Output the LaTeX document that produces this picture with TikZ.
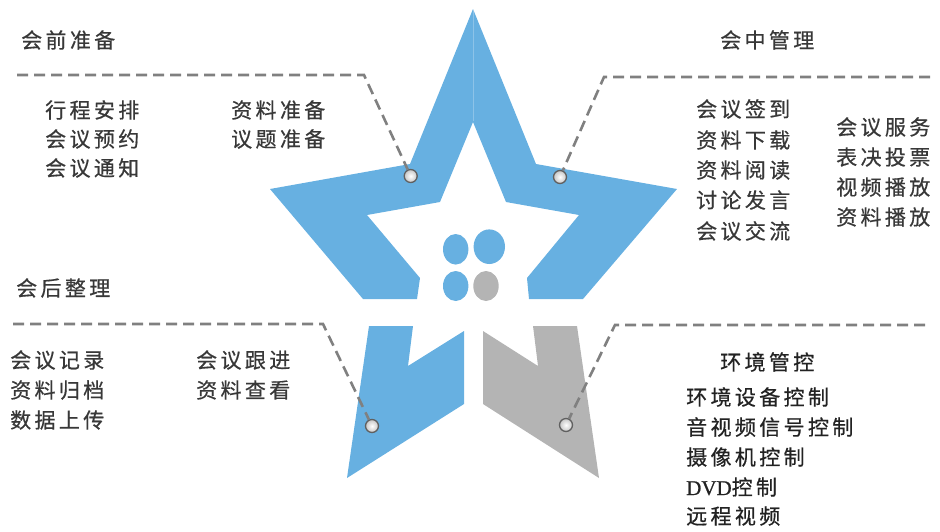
\documentclass[tikz,border=0pt]{standalone}
\usepackage{fontspec}
\setmainfont{Noto Sans CJK SC}
\newfontfamily\cjk[LetterSpace=16,FakeBold=0.6]{Noto Sans CJK SC}
\newfontfamily\latn[FakeBold=0.8]{Liberation Serif}
\definecolor{starblue}{HTML}{67B0E1}
\definecolor{stargray}{HTML}{B4B4B4}
\definecolor{dashgray}{HTML}{808080}
\definecolor{txtc}{HTML}{383838}
\definecolor{txtd}{HTML}{222222}
\tikzset{
  txt/.style={font=\cjk\fontsize{21}{24}\selectfont, text=txtc, inner sep=0pt, anchor=west},
  txtdark/.style={txt, text=txtd},
  guide/.style={draw=dashgray, line width=2.6pt, dash pattern=on 11pt off 6pt},
  pin/.style={circle, minimum size=13pt, inner sep=0pt, draw=gray!75!black, line width=1.3pt, inner color=white, outer color=gray!45},
}
\begin{document}
\begin{tikzpicture}[x=1pt,y=-1pt]
\useasboundingbox (0,0) rectangle (940,531);
% star upper part
\fill[starblue] (473,9) -- (536,164) -- (677,189) -- (583,299) -- (529,299) -- (527,278)
  -- (579,215) -- (506,202) -- (473,122) -- (440,202) -- (367,215) -- (420,278)
  -- (417,299) -- (363,299) -- (270,189) -- (410,164) -- cycle;
\draw[white, opacity=0.25, line width=0.6pt] (473,10) -- (473,121);
% lower legs
\fill[starblue] (369,326) -- (413,326) -- (408,366) -- (464,331) -- (464,404) -- (347,478) -- cycle;
\fill[stargray] (577,326) -- (533,326) -- (538,366) -- (483,331) -- (483,404) -- (599,478) -- cycle;
% centre dots
\fill[starblue] (455.7,249.3) ellipse [x radius=12.7, y radius=15.3];
\fill[starblue] (489.3,246.7) ellipse [x radius=15.7, y radius=17.3];
\fill[starblue] (455.7,286) ellipse [x radius=12.7, y radius=15];
\fill[stargray] (486,286) ellipse [x radius=12.7, y radius=15];
% pins
\node[pin] (pA) at (410.7,176) {};
\node[pin] (pB) at (560,177) {};
\node[pin] (pC) at (372,426) {};
\node[pin] (pD) at (566,425) {};
% guide lines
\coordinate (sA) at (17,75);  \coordinate (cA) at (364,75);
\coordinate (sB) at (930,77); \coordinate (cB) at (604,77);
\coordinate (sC) at (13,324); \coordinate (cC) at (323,324);
\coordinate (sD) at (925,325);\coordinate (cD) at (615,325);
\draw[guide] (sA) -- (cA) -- (pA);
\draw[guide] (sB) -- (cB) -- (pB);
\draw[guide] (sC) -- (cC) -- (pC);
\draw[guide] (sD) -- (cD) -- (pD);
% titles
\node[txt] (tA) at (21,40) {会前准备};
\node[txt] (tB) at (720,40) {会中管理};
\node[txt] (tC) at (16,288) {会后整理};
\node[txtdark] (tD) at (720,362) {环境管控};
% lists
\foreach \t/\y [count=\i] in {行程安排/110,会议预约/139,会议通知/168}
  \node[txt] (a\i) at (45,\y) {\t};
\foreach \t/\y [count=\i] in {资料准备/110,议题准备/139}
  \node[txt] (b\i) at (231,\y) {\t};
\foreach \t/\y [count=\i] in {会议签到/109,资料下载/140,资料阅读/170,讨论发言/200,会议交流/231}
  \node[txt] (c\i) at (696,\y) {\t};
\foreach \t/\y [count=\i] in {会议服务/127,表决投票/157,视频播放/187,资料播放/217}
  \node[txt] (d\i) at (836,\y) {\t};
\foreach \t/\y [count=\i] in {会议记录/360,资料归档/390,数据上传/420}
  \node[txt] (e\i) at (10,\y) {\t};
\foreach \t/\y [count=\i] in {会议跟进/360,资料查看/390}
  \node[txt] (f\i) at (196,\y) {\t};
\foreach \t/\y [count=\i] in {环境设备控制/397,音视频信号控制/427,摄像机控制/457}
  \node[txtdark] (g\i) at (686,\y) {\t};
\node[txtdark] (g4) at (686,487) {{\latn\fontsize{21}{24}\selectfont DVD}控制};
\node[txtdark] (g5) at (686,516) {远程视频};
\end{tikzpicture}
\end{document}
